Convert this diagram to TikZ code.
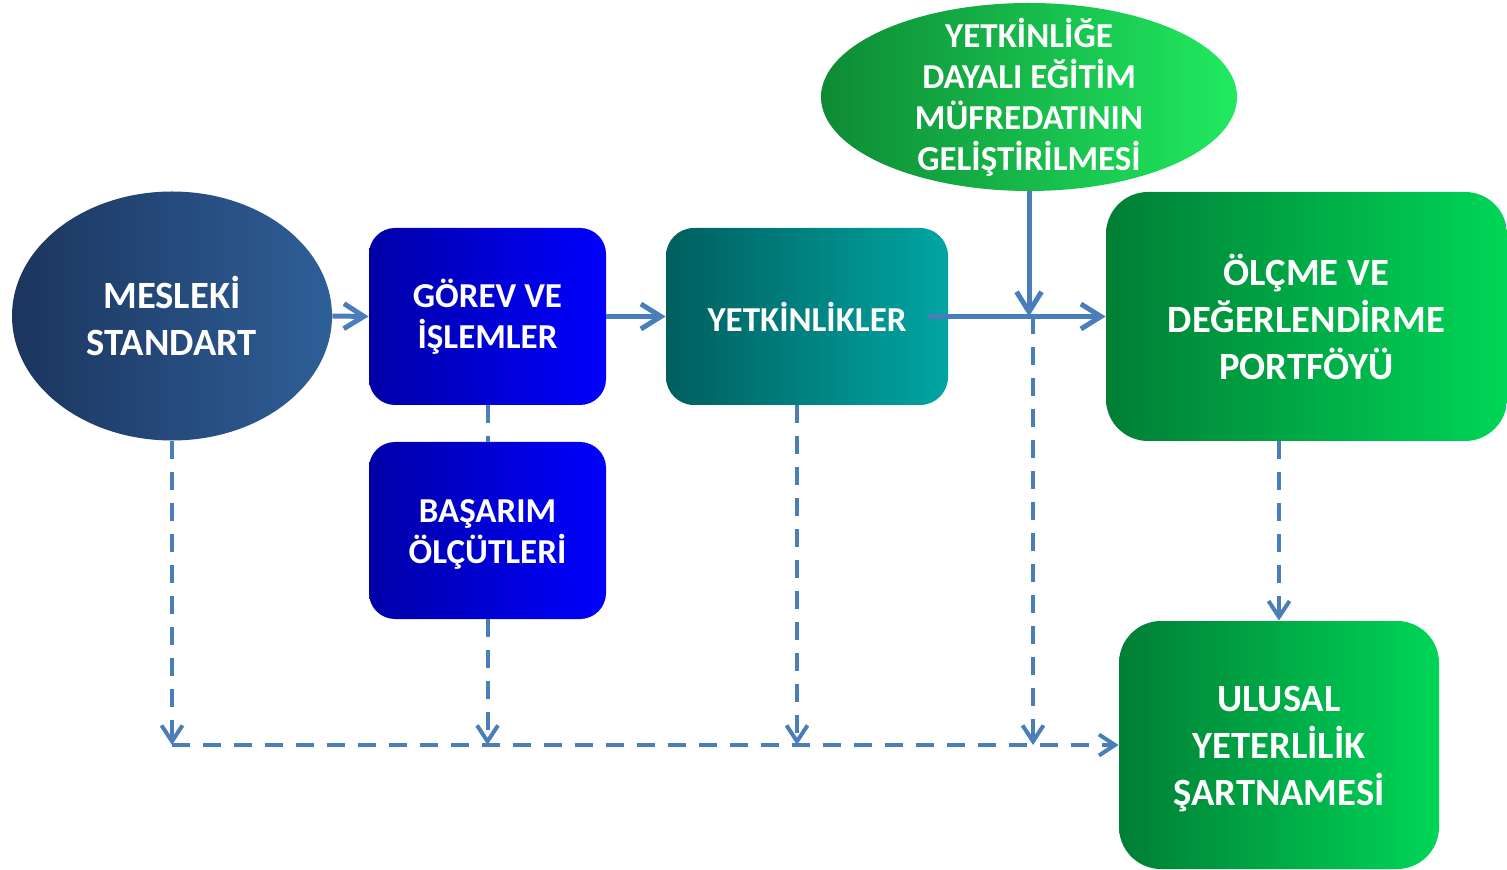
\documentclass[tikz,border=0pt]{standalone}
\usepackage{fontspec}
\setmainfont{Carlito}
\usetikzlibrary{arrows.meta,shapes.geometric}

\definecolor{link}{HTML}{4A7EBB}
\definecolor{navyL}{HTML}{1B355E}
\definecolor{navyR}{HTML}{2F5F98}
\definecolor{blueL}{HTML}{0000A6}
\definecolor{blueR}{HTML}{0000FF}
\definecolor{tealL}{HTML}{005E5E}
\definecolor{tealR}{HTML}{00A6A3}
\definecolor{limeL}{HTML}{0E8A35}
\definecolor{limeR}{HTML}{20EA60}
\definecolor{greenL}{HTML}{007E35}
\definecolor{greenR}{HTML}{00D657}

\tikzset{
  base/.style={inner sep=0pt, text=white, align=center},
  oval/.style={base, ellipse},
  card/.style={base, rectangle},
  flow/.style={link, line width=2.5pt, -{Straight Barb[length=10pt,width=12.5pt]}},
  plain/.style={link, line width=2.5pt},
  dashflow/.style={link, line width=2pt, dash pattern=on 9pt off 6.5pt,
                   -{Straight Barb[length=8pt,width=10.5pt]}},
  dashplain/.style={link, line width=2pt, dash pattern=on 9pt off 6.5pt},
  leadA/.style={font=\bfseries\fontsize{19.3}{23.5}\selectfont},
  leadB/.style={font=\bfseries\fontsize{17.5}{20.5}\selectfont},
}

\begin{document}
\begin{tikzpicture}[x=0.5pt,y=-0.5pt]
  \useasboundingbox (0,0) rectangle (1507,870);

  % shapes
  \node[oval, minimum width=160pt, minimum height=124.5pt,
        left color=navyL, right color=navyR] (mes) at (172,316) {};
  \node[leadA, text=white, align=center] at (mes.center) {MESLEKİ\\STANDART};

  \node[card, minimum width=118.5pt, minimum height=88.5pt, rounded corners=13pt,
        left color=blueL, right color=blueR] (gor) at (487.5,316.5) {};
  \node[leadB, text=white, align=center] at (gor.center) {GÖREV VE\\İŞLEMLER};

  \node[card, minimum width=118.5pt, minimum height=88.5pt, rounded corners=13pt,
        left color=blueL, right color=blueR] (bas) at (487.5,530.5) {};
  \node[leadB, text=white, align=center] at ([yshift=-2pt]bas.center) {BAŞARIM\\ÖLÇÜTLERİ};

  \node[card, minimum width=141pt, minimum height=88.5pt, rounded corners=14pt,
        left color=tealL, right color=tealR] (yet) at (807,316.5) {};
  \node[leadB, text=white, align=center] at (yet.center) {YETKİNLİKLER};

  \node[oval, minimum width=208pt, minimum height=94pt,
        left color=limeL, right color=limeR] (top) at (1029,97) {};
  \node[leadB, text=white, align=center] at (top.center)
       {YETKİNLİĞE\\DAYALI EĞİTİM\\MÜFREDATININ\\GELİŞTİRİLMESİ};

  \node[card, minimum width=200.5pt, minimum height=124.5pt, rounded corners=21pt,
        left color=greenL, right color=greenR] (olc) at (1306.5,316.5) {};
  \node[leadA, text=white, align=center] at (olc.center)
       {ÖLÇME VE\\DEĞERLENDİRME\\PORTFÖYÜ};

  \node[card, minimum width=160pt, minimum height=124pt, rounded corners=21pt,
        left color=greenL, right color=greenR] (ulu) at (1279,745) {};
  \node[leadA, text=white, align=center] at ([yshift=-2pt]ulu.center)
       {ULUSAL\\YETERLİLİK\\ŞARTNAMESİ};

  % junction points
  \coordinate (j) at (1033,316);
  \coordinate (b0) at (172,745);
  \coordinate (bj) at (1033,745);

  % solid connectors
  \draw[flow] (mes.east) -- (gor.west);
  \draw[flow] (gor.east) -- (yet.west);
  \draw[flow] ([xshift=-10pt]yet.east) -- (olc.west);
  \draw[flow] (top.south) -- (top.south |- yet.east);

  % dashed connectors
  \draw[dashplain] (gor.south) -- (bas.north);
  \draw[dashflow] (mes.south) -- (mes.south |- b0);
  \draw[dashflow] (bas.south) -- (bas.south |- b0);
  \draw[dashflow] ([xshift=-5pt]yet.south) -- ([xshift=-5pt]yet.south |- b0);
  \draw[dashflow] (j) -- (bj);
  \draw[dashflow] (b0) -- (ulu.west);
  \draw[dashflow] (olc.south -| ulu.north) -- (ulu.north);
\end{tikzpicture}
\end{document}
